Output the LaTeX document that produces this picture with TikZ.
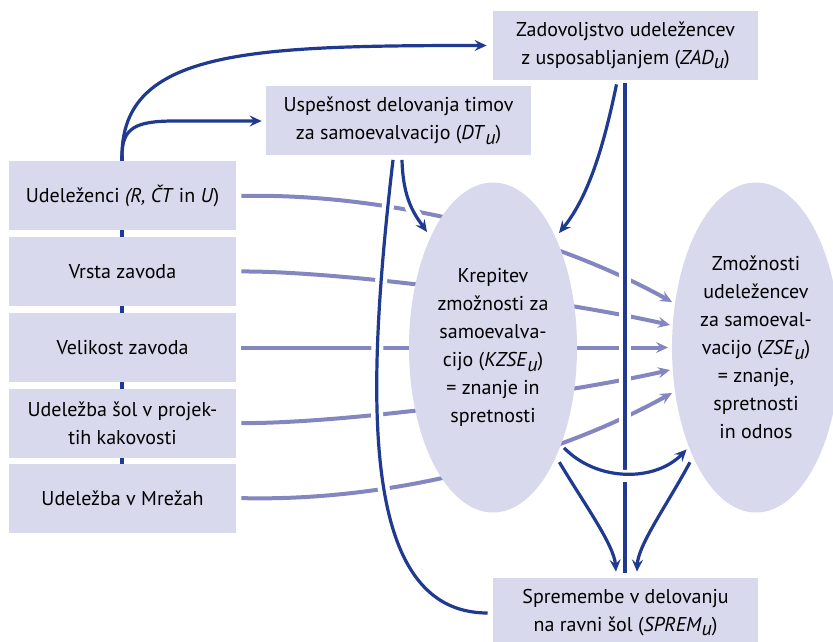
\documentclass[tikz,border=0pt]{standalone}
\usepackage{fontspec}
\setmainfont{PT Sans}
\usetikzlibrary{arrows.meta,shapes.geometric,calc}
\pgfdeclarelayer{background}
\pgfsetlayers{background,main}
\definecolor{boxfill}{RGB}{216,217,236}
\definecolor{navy}{RGB}{32,58,143}
\definecolor{lilac}{RGB}{132,134,192}
% italic subscript index u
\newcommand\subu{\raisebox{-0.45ex}{\itshape u}}

\begin{document}
\begin{tikzpicture}[x=0.5pt,y=-0.5pt,
  txt/.style={font=\fontsize{10}{14}\selectfont, align=center, text=black},
  box/.style={txt, fill=boxfill, draw=none, inner sep=0pt, minimum height=34.5pt},
  wbox/.style={box, minimum width=132.5pt},
  lbox/.style={box, minimum width=113.5pt},
  ell/.style={txt, ellipse, fill=boxfill, draw=none, inner sep=0pt,
              minimum width=84pt, minimum height=165pt},
  dark/.style={draw=navy, line width=1.6pt},
  lite/.style={draw=lilac, line width=2pt},
  tip/.style={-{Stealth[length=6pt,width=5.5pt,inset=2.2pt]}},
  halo/.style={preaction={draw=white, line width=6pt, arrows=-}},
  haloend/.style={preaction={draw=white, line width=6pt, arrows=-, shorten >=6pt}},
  haloboth/.style={preaction={draw=white, line width=6pt, arrows=-, shorten <=8pt, shorten >=8pt}},
]
\useasboundingbox (0,0) rectangle (833,641);

% boxes
\node[wbox] (zad) at (625.5,45.5) {Zadovoljstvo udeležencev\\z usposabljanjem (\textit{ZAD}\subu)};
\node[wbox] (dt) at (398.5,121) {Uspešnost delovanja timov\\za samoevalvacijo (\textit{DT}\subu)};
\node[lbox] (b1) at (122.5,196) {Udeleženci \textit{(R, ČT} in \textit{U})};
\node[lbox] (b2) at (122.5,271.5) {Vrsta zavoda};
\node[lbox] (b3) at (122.5,347.5) {Velikost zavoda};
\node[lbox] (b4) at (122.5,423) {Udeležba šol v projek-\\tih kakovosti};
\node[lbox] (b5) at (122.5,498) {Udeležba v Mrežah};
\node[wbox] (sp) at (625.5,612.5) {Spremembe v delovanju\\na ravni šol (\textit{SPREM}\subu)};

% ellipses
\node[ell] (kz) at (493,347.5) {Krepitev\\zmožnosti za\\samoevalva-\\cijo (\textit{KZSE}\subu)\\= znanje in\\spretnosti};
\node[ell] (zs) at (756,347.5) {Zmožnosti\\udeležencev\\za samoeval-\\vacijo (\textit{ZSE}\subu)\\= znanje,\\spretnosti\\in odnos};

\coordinate (root) at ($(b1.north)+(-0.5,-5)$);
\coordinate (spineend) at ($(b5.north)+(-0.5,6)$);

% spine behind the left column and the light links to the right ellipse
\begin{pgfonlayer}{background}
  \draw[dark] (root) -- (spineend);
  \draw[lite,tip,shorten <=2.5pt] (b1.east) .. controls (400,193) and (560,240) .. (672,302);
  \draw[lite,tip,shorten <=2.5pt] (b2.east) .. controls (340,271) and (560,300) .. (670,325);
  \draw[lite,tip,shorten <=2.5pt] (b3.east) -- (668,347.5);
  \draw[lite,tip,shorten <=2.5pt] (b4.east) .. controls (340,424) and (560,395) .. (670,370);
  \draw[lite,tip,shorten <=2.5pt] (b5.east) .. controls (400,502) and (560,455) .. (672,393);
\end{pgfonlayer}

% links out of the participants box
\draw[dark,tip,shorten >=3pt] (root) .. controls (122,50) and (250,45.5) .. (zad.west);
\draw[dark,tip,shorten >=2pt] (root) .. controls (122,128) and (135,121) .. (175,121) -- (dt.west);

% central vertical link
\coordinate (vt) at ($(zad.south)+(-0.5,3)$);
\coordinate (vb) at ($(sp.north)+(-0.5,-5)$);
\draw[dark,halo] (vt) -- (vb);

% links out of the team box
\draw[dark,halo] ($(dt.south)+(-5.5,4)$) .. controls (365,400) and (360,613) .. ($(sp.west)+(-5,0.5)$);
\draw[dark,tip,haloend] ($(dt.south)+(3.5,4)$) .. controls (403,200) and (415,215) .. (427,232);

% satisfaction to the capacity building ellipse
\draw[dark,tip] ($(zad.south)+(-9,4)$) .. controls (605,140) and (590,195) .. (559,233);

% lower links
\draw[dark,tip,haloboth,shorten <=2pt,shorten >=1.5pt] (kz.-55) .. controls (597,482) and (655,482) .. (zs.-124);
\draw[dark,tip,shorten <=3pt] (kz.-60) .. controls (585,505) and (614,545) .. ($(sp.north)+(-9.5,-6)$);
\draw[dark,tip,shorten <=3pt] (zs.-120) .. controls (667,505) and (638,545) .. ($(sp.north)+(11.5,-6)$);
\end{tikzpicture}
\end{document}
